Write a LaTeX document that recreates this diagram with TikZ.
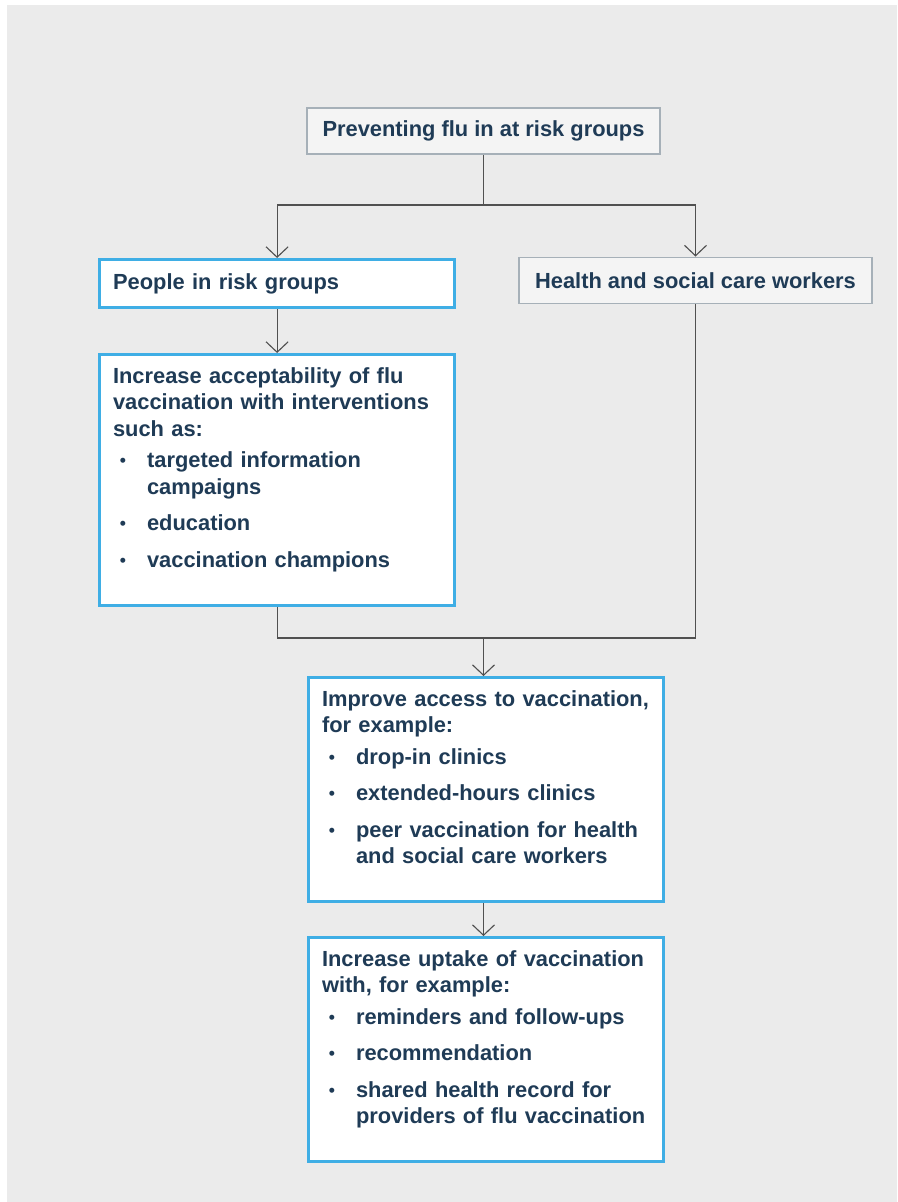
\documentclass[tikz,border=0pt]{standalone}
\usepackage{fontspec}
\setmainfont{Liberation Sans}
\usetikzlibrary{arrows.meta}

\definecolor{flunavy}{HTML}{1F3B56}
\definecolor{flublue}{HTML}{3FAEE5}
\definecolor{flugrey}{HTML}{A6B0B8}
\definecolor{flupale}{HTML}{F4F4F4}
\definecolor{flubg}{HTML}{EBEBEB}
\definecolor{fluline}{HTML}{505050}

\hyphenpenalty=10000
\exhyphenpenalty=10000

% bullet line with hanging indent, optional gap above
\newcommand\fluitem[2][0.25cm]{\par\vspace{#1}\hangindent=0.85cm\hangafter=1
  \noindent\makebox[0.85cm][l]{\hspace{0.17cm}\raisebox{0.1ex}{\scalebox{0.8}{\textbullet}}}#2}

\tikzset{
  flunode/.style={text=flunavy, font=\fontsize{15.55pt}{18.85pt}\selectfont\bfseries},
  greybox/.style={flunode, draw=flugrey, fill=flupale, line width=1.4pt,
    minimum width=8.825cm, minimum height=1.15cm},
  bluebox/.style={flunode, draw=flublue, fill=white, line width=2.2pt,
    text width=8.2cm, inner xsep=0.3375cm, align=left, anchor=north west},
  listbox/.style={bluebox, inner ysep=0pt, text height=0.72cm},
  link/.style={draw=fluline, line width=0.8pt},
  arrow/.style={link, -{Straight Barb[length=0.26cm, width=0.55cm]}}
}

\begin{document}
\begin{tikzpicture}[x=0.025cm, y=-0.025cm]
\useasboundingbox (0,0) rectangle (897,1202);
\fill[flubg] (7,5) rectangle (897,1202);

% boxes
\node[greybox] (start) at (483.5,131) {Preventing flu in at risk groups};
\node[bluebox, minimum height=1.2cm] (risk) at (98,258) {People in risk groups};
\node[greybox] (hscw) at (695.5,280.5) {Health and social care workers};
\node[listbox, text depth=5.55cm] (accept) at (98,353) {%
  Increase acceptability of flu\newline vaccination with interventions\newline such as:
  \fluitem[0.12cm]{targeted information\newline campaigns}
  \fluitem{education}
  \fluitem{vaccination champions}\par};
\node[listbox, text depth=4.88cm] (access) at (307,676) {%
  Improve access to vaccination,\newline for example:
  \fluitem[0.12cm]{drop-in clinics}
  \fluitem{extended-hours clinics}
  \fluitem{peer vaccination for health\newline and social care workers}\par};
\node[listbox, text depth=4.88cm] (uptake) at (307,936) {%
  Increase uptake of vaccination\newline with, for example:
  \fluitem[0.12cm]{reminders and follow-ups}
  \fluitem{recommendation}
  \fluitem{shared health record for\newline providers of flu vaccination}\par};

% connectors
\coordinate (fork) at (start.south |- 0,205);
\coordinate (join) at (start.south |- 0,638);
\draw[link] (start) -- (fork);
\draw[arrow] (fork) -| (risk);
\draw[arrow] (fork) -| (hscw);
\draw[arrow] (risk) -- (accept);
\draw[link] (accept) |- (join);
\draw[link] (hscw) |- (join);
\draw[arrow] (join) -- (join |- access.north);
\draw[arrow] (access.south -| join) -- (uptake.north -| join);
\end{tikzpicture}
\end{document}
